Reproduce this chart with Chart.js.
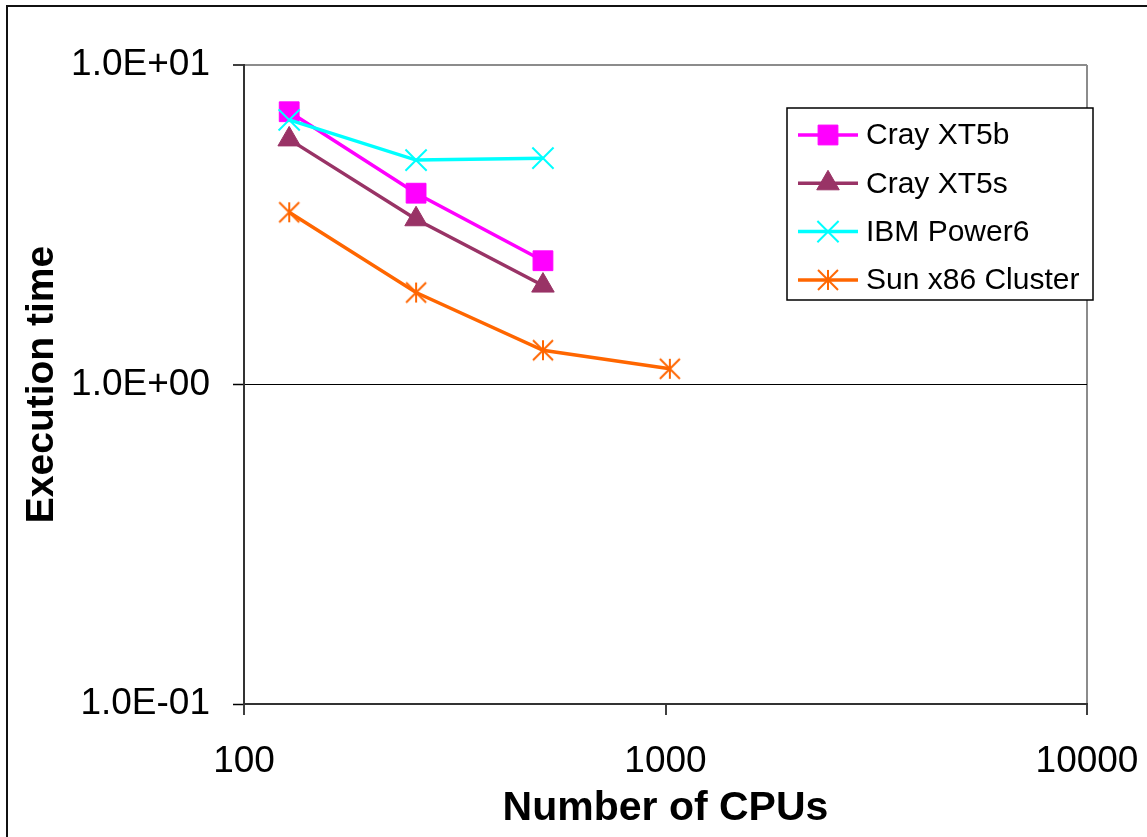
<!DOCTYPE html>
<html>
<head>
<meta charset="utf-8">
<title>Execution time vs Number of CPUs</title>
<script src="https://cdn.jsdelivr.net/npm/chart.js@4.4.1/dist/chart.umd.min.js"></script>
<style>
  html, body { margin: 0; padding: 0; background: #fff; overflow: hidden; }
  #wrap { position: relative; width: 1147px; height: 837px; }
  #frame { position: absolute; left: 6px; top: 5px; width: 1200px; height: 900px;
           border-left: 2px solid #111; border-top: 2px solid #111; }
  #c { position: absolute; left: 0; top: 0; }
</style>
</head>
<body>
<div id="wrap">
  <div id="frame"></div>
  <canvas id="c" width="1147" height="837"></canvas>
</div>
<script>
// Number of CPUs for each measurement
const cpus = [128, 256, 512, 1024];

// Execution time per system
const crayXT5b = [7.14, 3.97, 2.44];
const crayXT5s = [5.85, 3.29, 2.04];
const ibmPower6 = [6.73, 5.04, 5.11];
const sunX86Cluster = [3.46, 1.94, 1.28, 1.12];

const seriesNames = ['Cray XT5b', 'Cray XT5s', 'IBM Power6', 'Sun x86 Cluster'];

// Decade ticks on both log axes
const xTickValues = [100, 1000, 10000];
const xTickLabels = ['100', '1000', '10000'];
const yTickValues = [0.1, 1, 10];
const yTickLabels = ['1.0E-01', '1.0E+00', '1.0E+01'];

const FONT = '"Liberation Sans", Arial, Helvetica, sans-serif';
const LINE_W = 3.5;

const toPoints = vals => vals.map((v, i) => ({ x: cpus[i], y: v }));

// Asterisk marker: vertical stroke plus two diagonals
function makeStar(color, half, lw) {
  const s = Math.ceil(half * 2 + lw * 2);
  const cv = document.createElement('canvas');
  cv.width = s; cv.height = s;
  const g = cv.getContext('2d');
  const c = s / 2;
  g.strokeStyle = color;
  g.lineWidth = lw;
  g.beginPath();
  g.moveTo(c, c - half); g.lineTo(c, c + half);
  g.moveTo(c - half, c - half); g.lineTo(c + half, c + half);
  g.moveTo(c + half, c - half); g.lineTo(c - half, c + half);
  g.stroke();
  return cv;
}
const starMarker = makeStar('#FF6600', 10, 2);

const datasets = [
  {
    label: seriesNames[0], data: toPoints(crayXT5b),
    borderColor: '#FF00FF', backgroundColor: '#FF00FF', borderWidth: LINE_W,
    pointStyle: 'rect', pointRadius: 14, pointBorderWidth: 1,
    pointBackgroundColor: '#FF00FF', pointBorderColor: '#FF00FF', order: 4
  },
  {
    label: seriesNames[1], data: toPoints(crayXT5s),
    borderColor: '#993366', backgroundColor: '#993366', borderWidth: LINE_W,
    pointStyle: 'triangle', pointRadius: 13, pointBorderWidth: 1,
    pointBackgroundColor: '#993366', pointBorderColor: '#993366', order: 3
  },
  {
    label: seriesNames[2], data: toPoints(ibmPower6),
    borderColor: '#00FFFF', backgroundColor: '#00FFFF', borderWidth: LINE_W,
    pointStyle: 'crossRot', pointRadius: 15, pointBorderWidth: 2,
    pointBackgroundColor: '#00FFFF', pointBorderColor: '#00FFFF', order: 2
  },
  {
    label: seriesNames[3], data: toPoints(sunX86Cluster),
    borderColor: '#FF6600', backgroundColor: '#FF6600', borderWidth: LINE_W,
    pointStyle: starMarker, pointRadius: 11, pointBorderWidth: 2,
    pointBackgroundColor: '#FF6600', pointBorderColor: '#FF6600', order: 1
  }
];

function drawMarker(ctx, ds, x, y) {
  ctx.save();
  ctx.fillStyle = ds.pointBackgroundColor;
  ctx.strokeStyle = ds.pointBorderColor;
  ctx.lineWidth = ds.pointBorderWidth;
  if (Chart.helpers && Chart.helpers.drawPoint) {
    Chart.helpers.drawPoint(ctx, {
      pointStyle: ds.pointStyle, radius: ds.pointRadius,
      rotation: 0, borderWidth: ds.pointBorderWidth
    }, x, y);
  } else if (ds.pointStyle instanceof HTMLCanvasElement) {
    ctx.drawImage(ds.pointStyle, x - ds.pointStyle.width / 2, y - ds.pointStyle.height / 2);
  }
  ctx.restore();
}

// Boxed legend inside the plot, line + marker + label per series
const boxedLegend = {
  id: 'boxedLegend',
  afterDraw(chart) {
    const ctx = chart.ctx;
    const L = 787, T = 108, R = 1093, B = 300;
    ctx.save();
    ctx.fillStyle = '#fff';
    ctx.fillRect(L, T, R - L, B - T);
    ctx.strokeStyle = '#000';
    ctx.lineWidth = 1.5;
    ctx.strokeRect(L, T, R - L, B - T);
    ctx.font = '30px ' + FONT;
    ctx.textBaseline = 'middle';
    ctx.textAlign = 'left';
    chart.data.datasets.forEach((ds, i) => {
      const y = 135 + i * 48.3;
      ctx.strokeStyle = ds.borderColor;
      ctx.lineWidth = ds.borderWidth;
      ctx.beginPath();
      ctx.moveTo(798, y);
      ctx.lineTo(858, y);
      ctx.stroke();
      drawMarker(ctx, ds, 828, y);
      ctx.fillStyle = '#000';
      ctx.fillText(ds.label, 866, y + 1);
    });
    ctx.restore();
  }
};

Chart.defaults.color = '#000';

new Chart(document.getElementById('c'), {
  type: 'line',
  data: { datasets },
  options: {
    responsive: false,
    animation: false,
    devicePixelRatio: 1,
    events: [],
    layout: { padding: { left: 0, top: 65, right: 60, bottom: 0 } },
    elements: {
      line: { borderWidth: LINE_W, tension: 0 }
    },
    plugins: {
      legend: { display: false },
      tooltip: { enabled: false }
    },
    scales: {
      x: {
        type: 'logarithmic',
        min: 100, max: 10000,
        afterBuildTicks: s => { s.ticks = xTickValues.map(v => ({ value: v })); },
        afterFit: s => { s.height = 133; s.paddingLeft = 0; s.paddingRight = 0; },
        ticks: {
          autoSkip: false, maxRotation: 0, padding: 25,
          font: { family: FONT, size: 37 },
          callback: (v, i) => xTickLabels[i]
        },
        grid: {
          drawOnChartArea: true,
          color: ctx => (ctx.tick && ctx.tick.value === 10000) ? '#8c8c8c' : 'rgba(0,0,0,0)',
          lineWidth: 2,
          tickColor: '#000', tickLength: 11, tickWidth: 1.5
        },
        border: { display: true, color: '#333', width: 2 },
        title: {
          display: true, text: 'Number of CPUs',
          font: { family: FONT, size: 41, weight: 'bold' },
          padding: { top: 0, bottom: 4 }
        }
      },
      y: {
        type: 'logarithmic',
        min: 0.1, max: 10,
        afterBuildTicks: s => { s.ticks = yTickValues.map(v => ({ value: v })); },
        afterFit: s => { s.width = 244; s.paddingTop = 0; s.paddingBottom = 0; },
        ticks: {
          autoSkip: false, padding: 23,
          font: { family: FONT, size: 37 },
          callback: (v, i) => yTickLabels[i]
        },
        grid: {
          drawOnChartArea: true,
          color: ctx => (ctx.tick && ctx.tick.value === 10) ? '#8c8c8c' : '#000',
          lineWidth: ctx => (ctx.tick && ctx.tick.value === 10) ? 2 : 1,
          tickColor: '#000', tickLength: 11, tickWidth: 1.5
        },
        border: { display: true, color: '#333', width: 2 },
        title: {
          display: true, text: 'Execution time',
          font: { family: FONT, size: 39, weight: 'bold' },
          padding: { top: 19, bottom: 0 }
        }
      }
    }
  },
  plugins: [boxedLegend]
});
</script>
</body>
</html>
